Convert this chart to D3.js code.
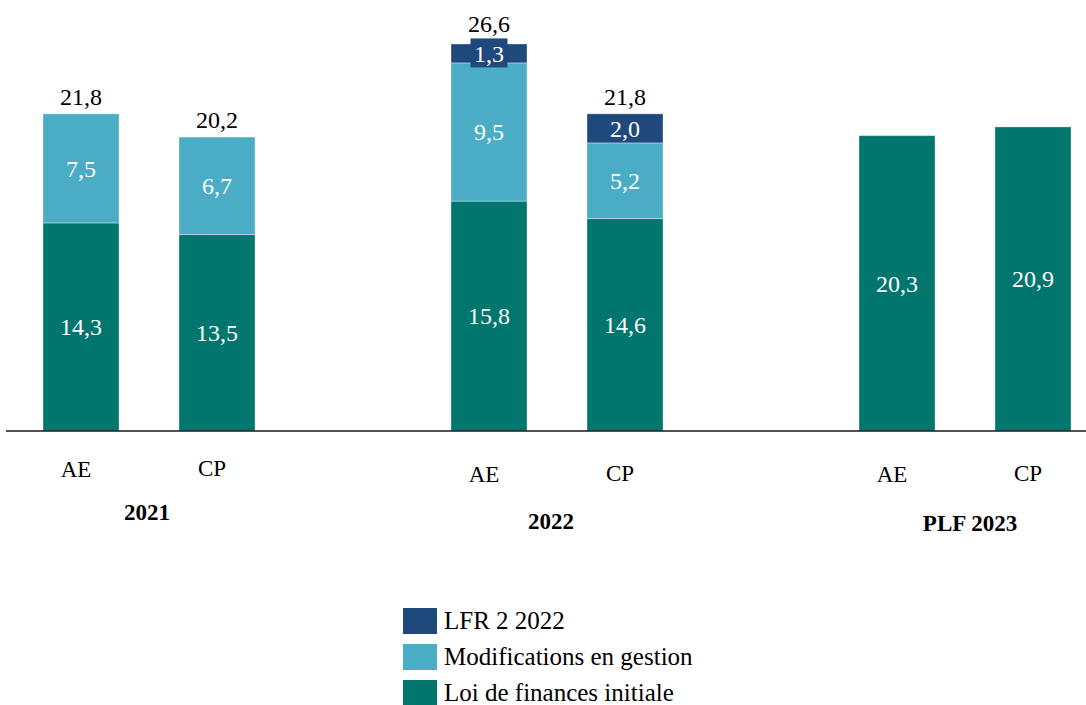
<!DOCTYPE html>
<html>
<head>
<meta charset="utf-8">
<script src="https://cdn.jsdelivr.net/npm/d3@7"></script>
<style>
  body { margin: 0; background: #fff; }
  svg { display: block; }
  svg text { font-family: "Liberation Serif", "DejaVu Serif", serif; }
</style>
</head>
<body>
<svg></svg>
<script>
let w = 1086;
let h = 705;

// Data
const years = ['2021', '2022', 'PLF 2023'];
const cats = ['AE', 'CP'];
const lfi   = [14.3, 13.5, 15.8, 14.6, 20.3, 20.9];
const modif = [7.5, 6.7, 9.5, 5.2, 0, 0];
const lfr   = [0, 0, 1.3, 2.0, 0, 0];
const seriesNames = ['Loi de finances initiale', 'Modifications en gestion', 'LFR 2 2022'];
const colors = ['#00766e', '#4bacc6', '#1f497d'];

const keys = ['lfi', 'modif', 'lfr'];
const rows = [];
years.forEach((yr, i) => {
  cats.forEach((c, j) => {
    const k = i * 2 + j;
    rows.push({ year: yr, cat: c, lfi: lfi[k], modif: modif[k], lfr: lfr[k] });
  });
});

const fmt = v => d3.format('.1f')(v).replace('.', ',');

const svg = d3.select('svg')
  .attr('width', w)
  .attr('height', h);

// Scales
const baseY = 431;
const xYear = d3.scalePoint()
  .domain(years)
  .range([149, 965]);

const xCat = d3.scalePoint()
  .domain(cats)
  .range([-68, 68]);

const barW = 76;

const yScale = d3.scaleLinear()
  .domain([0, 30])
  .range([baseY, baseY - 30 * 14.55]);

const xc = d => xYear(d.year) + xCat(d.cat);

// Stacked bars
const stacked = d3.stack().keys(keys)(rows);

const layers = svg.append('g')
  .selectAll('g')
  .data(stacked)
  .enter()
  .append('g')
  .attr('fill', (d, i) => colors[i]);

layers.selectAll('rect')
  .data(d => d.filter(s => s[1] - s[0] > 0))
  .enter()
  .append('rect')
  .attr('x', d => xc(d.data) - barW / 2)
  .attr('y', d => yScale(d[1]))
  .attr('width', barW)
  .attr('height', d => yScale(d[0]) - yScale(d[1]))
  .attr('stroke', 'rgba(255,255,255,0.35)')
  .attr('stroke-width', 1);

// Segment labels
stacked.forEach((layer, li) => {
  layer.filter(s => s[1] - s[0] > 0).forEach(s => {
    const v = s[1] - s[0];
    const cx = xc(s.data);
    const cy = (yScale(s[0]) + yScale(s[1])) / 2;
    const g = svg.append('g');
    // small segment: label sits on its own box, taller than the segment
    if (yScale(s[0]) - yScale(s[1]) < 22) {
      g.append('rect')
        .attr('x', cx - 18.5)
        .attr('y', cy - 15)
        .attr('width', 37)
        .attr('height', 29)
        .attr('fill', colors[li]);
    }
    g.append('text')
      .attr('x', cx)
      .attr('y', cy)
      .attr('dy', '0.35em')
      .attr('text-anchor', 'middle')
      .attr('fill', '#fff')
      .attr('font-size', 24)
      .text(fmt(v));
  });
});

// Totals
svg.append('g')
  .selectAll('text')
  .data(rows.filter(d => (d.modif + d.lfr) > 0))
  .enter()
  .append('text')
  .attr('x', d => xc(d))
  .attr('y', d => yScale(d.lfi + d.modif + d.lfr) - (d.lfr > 0 && d.lfr < 1.5 ? 12 : 9))
  .attr('text-anchor', 'middle')
  .attr('fill', '#000')
  .attr('font-size', 24)
  .text(d => fmt(d.lfi + d.modif + d.lfr));

// Axis line
svg.append('line')
  .attr('x1', 6)
  .attr('x2', w)
  .attr('y1', baseY)
  .attr('y2', baseY)
  .attr('stroke', '#1a1a1a')
  .attr('stroke-width', 1.5);

// Category labels
const catY = { '2021': 477, '2022': 482, 'PLF 2023': 482 };
svg.append('g')
  .selectAll('text')
  .data(rows)
  .enter()
  .append('text')
  .attr('x', d => xc(d) - 5)
  .attr('y', d => catY[d.year] - (d.cat === 'CP' ? 1 : 0))
  .attr('text-anchor', 'middle')
  .attr('font-size', 23)
  .attr('fill', '#000')
  .text(d => d.cat);

// Year labels
const yearY = { '2021': 520, '2022': 529, 'PLF 2023': 531 };
svg.append('g')
  .selectAll('text')
  .data(years)
  .enter()
  .append('text')
  .attr('x', d => xYear(d) + (d === '2022' ? -6 : d === '2021' ? -2 : 5))
  .attr('y', d => yearY[d])
  .attr('text-anchor', 'middle')
  .attr('font-size', 23)
  .attr('font-weight', 'bold')
  .attr('fill', '#000')
  .text(d => d);

// Legend
const legendOrder = [2, 1, 0];
const legend = svg.append('g')
  .attr('transform', 'translate(403,608)');

const items = legend.selectAll('g')
  .data(legendOrder)
  .enter()
  .append('g')
  .attr('transform', (d, i) => 'translate(0,' + (i * 36) + ')');

items.append('rect')
  .attr('width', 34)
  .attr('height', 26)
  .attr('fill', d => colors[d]);

items.append('text')
  .attr('x', 41)
  .attr('y', 21)
  .attr('font-size', 25)
  .attr('fill', '#000')
  .text(d => seriesNames[d]);
</script>
</body>
</html>
